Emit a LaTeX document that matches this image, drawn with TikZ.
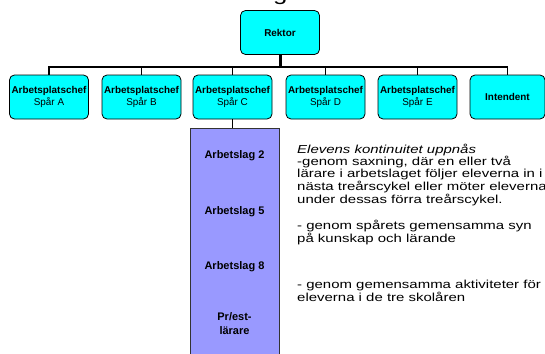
\documentclass[tikz,border=0pt]{standalone}
\usepackage{fontspec}
\setmainfont{Liberation Sans}
\newfontfamily\widefont[FakeStretch=1.29]{Liberation Sans}
\definecolor{boxcyan}{HTML}{00FFFF}
\definecolor{boxpurple}{HTML}{9999FF}
\begin{document}
\begin{tikzpicture}[x=1pt,y=-1pt,
  orgbox/.style={draw=black, line width=0.8pt, fill=boxcyan, rounded corners=5pt,
    minimum width=79pt, minimum height=44pt, inner sep=1pt, align=center,
    font=\fontsize{9.9}{11.3}\selectfont},
  teambox/.style={draw=black!80, line width=0.8pt, fill=boxpurple, minimum width=89pt, minimum height=232pt, inner sep=0pt},
  teamlabel/.style={inner sep=0pt, align=center, font=\fontsize{11}{14}\selectfont\bfseries},
  conn/.style={draw=black, line width=1.3pt},
  mainconn/.style={draw=black, line width=3pt},
  note/.style={inner sep=0pt, anchor=base west, align=left, font=\widefont\fontsize{11.6}{11.5}\selectfont}]
\useasboundingbox (0,0) rectangle (545,353);
% clipped fragment of the title above
\begin{scope}
\clip (0,0) rectangle (545,353);
\node[anchor=base west, inner sep=0pt, font=\widefont\fontsize{20}{20}\selectfont] (title) at (273,0.5) {g};
\end{scope}
\node[orgbox] (rektor) at (280,32.5) {\textbf{Rektor}};
\node[orgbox] (a) at (49,97) {\textbf{Arbetsplatschef}\\Spår A};
\node[orgbox] (b) at (141.5,97) {\textbf{Arbetsplatschef}\\Spår B};
\node[orgbox] (c) at (232.5,97) {\textbf{Arbetsplatschef}\\Spår C};
\node[orgbox] (d) at (325.5,97) {\textbf{Arbetsplatschef}\\Spår D};
\node[orgbox] (e) at (417.5,97) {\textbf{Arbetsplatschef}\\Spår E};
\node[orgbox, minimum width=75pt] (i) at (507.5,97) {\textbf{Intendent}};
\coordinate (bus) at (280,67);
\draw[mainconn] (rektor.south) -- (bus);
\foreach \n in {a,b,c,d,e,i} \draw[conn] (bus) -| (\n.north);
\node[teambox] (team) at (234.5,244) {};
\draw[conn] (c.south) -- (c.south |- team.north);
\node[teamlabel] (t2) at (234.5,156) {Arbetslag 2};
\node[teamlabel] (t5) at (234.5,212) {Arbetslag 5};
\node[teamlabel] (t8) at (234.5,267) {Arbetslag 8};
\node[teamlabel] (tp) at (234.5,324) {Pr/est-\\lärare};
\node[note] (n1) at (297,203) {\itshape Elevens kontinuitet uppnås\\-genom saxning, där en eller två\\lärare i arbetslaget följer eleverna in i\\nästa treårscykel eller möter eleverna\\under dessas förra treårscykel.};
\node[note] (n2) at (297,242.5) {- genom spårets gemensamma syn\\på kunskap och lärande};
\node[note] (n3) at (297,301.5) {- genom gemensamma aktiviteter för\\eleverna i de tre skolåren};
\end{tikzpicture}
\end{document}
